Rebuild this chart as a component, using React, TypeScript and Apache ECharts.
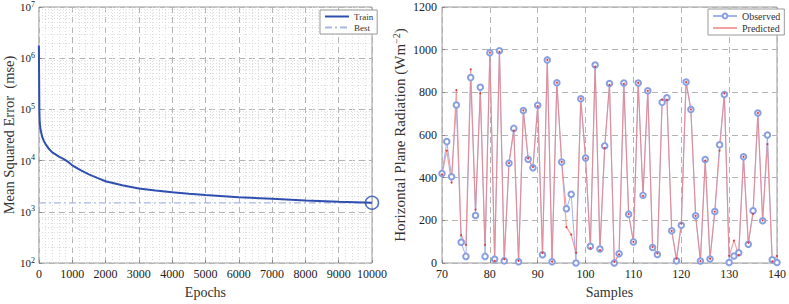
import React, { useEffect, useRef } from "react";
import * as echarts from "echarts";

// Left chart: training performance (epoch, mse)
const trainEpochs = [0, 5, 10, 15, 25, 50, 100, 150, 200, 300, 400, 500, 600, 750, 900, 1000, 1250, 1500, 1750, 2000, 2500, 3000, 3500, 4000, 4500, 5000, 6000, 7000, 8000, 9000, 10000];
const trainMse = [1770000, 600000, 200000, 90000, 55000, 40000, 29000, 24000, 21000, 17000, 14500, 13200, 12000, 10700, 9200, 8100, 6500, 5400, 4600, 3950, 3300, 2850, 2600, 2400, 2250, 2120, 1930, 1790, 1660, 1570, 1500];
const bestEpoch = 10000;
const bestMse = 1500;
const xTicksLeft = { min: 0, max: 10000, interval: 1000 };
const yDecades = [2, 3, 4, 5, 6, 7];

// Right chart: observed vs predicted
const samples = [70, 71, 72, 73, 74, 75, 76, 77, 78, 79, 80, 81, 82, 83, 84, 85, 86, 87, 88, 89, 90, 91, 92, 93, 94, 95, 96, 97, 98, 99, 100, 101, 102, 103, 104, 105, 106, 107, 108, 109, 110, 111, 112, 113, 114, 115, 116, 117, 118, 119, 120, 121, 122, 123, 124, 125, 126, 127, 128, 129, 130, 131, 132, 133, 134, 135, 136, 137, 138, 139, 140];
const observed = [420, 569, 404, 741, 97, 31, 869, 223, 824, 31, 986, 18, 995, 10, 468, 631, 6, 715, 486, 446, 739, 39, 952, 6, 845, 473, 254, 322, 0, 770, 492, 78, 928, 66, 549, 841, 0, 43, 844, 229, 99, 844, 317, 807, 73, 40, 753, 775, 151, 10, 177, 848, 720, 221, 9, 485, 19, 241, 554, 790, 2, 33, 48, 498, 88, 245, 703, 198, 600, 15, 2];
const predicted = [415, 527, 377, 810, 130, 85, 908, 250, 796, 85, 986, 10, 990, 18, 468, 620, 10, 715, 490, 450, 735, 48, 952, 6, 845, 474, 168, 133, 48, 770, 490, 70, 920, 60, 540, 835, 5, 40, 840, 229, 99, 844, 315, 807, 75, 45, 766, 765, 151, 21, 185, 848, 720, 221, 9, 480, 20, 241, 527, 795, 33, 105, 37, 498, 95, 230, 703, 200, 557, 8, 33];

const FONT = "Liberation Serif";

export default function App() {
  const ref = useRef<HTMLDivElement>(null);
  useEffect(() => {
    if (!ref.current) return;
    const chart = echarts.init(ref.current, null, { renderer: "svg" });
    const minorY: { yAxis: number }[] = [];
    for (let i = 0; i < yDecades.length - 1; i++) {
      for (let m = 2; m <= 9; m++) minorY.push({ yAxis: m * Math.pow(10, yDecades[i]) });
    }
    const gridLine = { show: true, lineStyle: { color: "#b4b4b4", type: [6, 4] as any, width: 1 } };
    const minorStyle = { color: "#dcdcdc", type: [1, 2] as any, width: 1 };
    const axisLabelStyle = { color: "#222", fontFamily: FONT, fontSize: 12 };
    const plain = (v: number) => String(v);
    chart.setOption({
      animation: false,
      textStyle: { fontFamily: FONT },
      grid: [
        { left: 33, top: 7, width: 339, height: 266, show: true, borderColor: "#9a9a9a", borderWidth: 1, backgroundColor: "transparent" },
        { left: 442, top: 7, width: 340, height: 267, show: true, borderColor: "#9a9a9a", borderWidth: 1, backgroundColor: "transparent" },
      ],
      xAxis: [
        {
          gridIndex: 0, type: "value", min: xTicksLeft.min, max: xTicksLeft.max, interval: xTicksLeft.interval,
          name: "Epochs", nameLocation: "middle", nameGap: 22,
          nameTextStyle: { fontFamily: FONT, fontSize: 14, color: "#333" },
          axisLine: { show: false }, axisTick: { inside: true, length: 3, lineStyle: { color: "#888" } },
          axisLabel: { ...axisLabelStyle, margin: 5, formatter: plain },
          splitLine: gridLine,
          minorTick: { show: false, splitNumber: 5 },
          minorSplitLine: { show: true, lineStyle: minorStyle },
        },
        {
          gridIndex: 1, type: "value", min: 70, max: 140, interval: 10,
          name: "Samples", nameLocation: "middle", nameGap: 22,
          nameTextStyle: { fontFamily: FONT, fontSize: 14, color: "#333" },
          axisLine: { show: false }, axisTick: { inside: true, length: 3, lineStyle: { color: "#888" } },
          axisLabel: { ...axisLabelStyle, margin: 5, formatter: plain },
          splitLine: gridLine,
        },
      ],
      yAxis: [
        {
          gridIndex: 0, type: "log", logBase: 10, min: 100, max: 10000000,
          name: "Mean Squared Error  (mse)", nameLocation: "middle", nameGap: 21,
          nameTextStyle: { fontFamily: FONT, fontSize: 14.5, color: "#333" },
          axisLine: { show: false }, axisTick: { inside: true, length: 3, lineStyle: { color: "#888" } },
          axisLabel: {
            ...axisLabelStyle, margin: 4,
            formatter: (v: number) => `{b|10}{s|${Math.round(Math.log10(v))}}`,
            rich: {
              b: { fontFamily: FONT, fontSize: 11, color: "#222" },
              s: { fontFamily: FONT, fontSize: 8, color: "#222", verticalAlign: "top", padding: [0, 0, 6, 0] },
            },
          },
          splitLine: gridLine,
        },
        {
          gridIndex: 1, type: "value", min: 0, max: 1200, interval: 200,
          name: "Horizontal Plane Radiation (Wm{s|−2})", nameLocation: "middle", nameGap: 33,
          nameTextStyle: {
            fontFamily: FONT, fontSize: 15, color: "#333",
            rich: { s: { fontFamily: FONT, fontSize: 10, color: "#333", verticalAlign: "top", padding: [0, 0, 8, 0] } },
          },
          axisLine: { show: false }, axisTick: { inside: true, length: 3, lineStyle: { color: "#888" } },
          axisLabel: { ...axisLabelStyle, margin: 5, formatter: plain },
          splitLine: gridLine,
        },
      ],
      legend: [
        {
          left: 320, top: 10, orient: "vertical", itemGap: 2, itemWidth: 24, itemHeight: 7,
          padding: [2, 4, 2, 4],
          borderColor: "#999", borderWidth: 1, backgroundColor: "#fff",
          textStyle: { fontFamily: FONT, fontSize: 9, color: "#333" },
          data: [
            { name: "Train", itemStyle: { opacity: 0 } },
            { name: "Best", itemStyle: { opacity: 0 } },
          ],
        },
        {
          left: 708, top: 9, orient: "vertical", itemGap: 2, itemWidth: 24, itemHeight: 6,
          padding: [2, 4, 2, 4],
          borderColor: "#999", borderWidth: 1, backgroundColor: "#fff",
          textStyle: { fontFamily: FONT, fontSize: 10, color: "#333" },
          data: [
            { name: "Observed" },
            { name: "Predicted", itemStyle: { opacity: 0 } },
          ],
        },
      ],
      series: [
        {
          name: "minor", type: "line", xAxisIndex: 0, yAxisIndex: 0, data: [], silent: true, z: 0,
          markLine: {
            silent: true, symbol: "none", label: { show: false }, z: 0,
            lineStyle: minorStyle,
            data: minorY,
          },
        },
        {
          name: "Best", type: "line", xAxisIndex: 0, yAxisIndex: 0, z: 8,
          data: [[0, bestMse], [bestEpoch, bestMse]],
          showSymbol: false, symbol: "none",
          lineStyle: { color: "#a9b6e6", width: 1.2, type: [7, 3, 2, 3] as any },
          itemStyle: { color: "#a9b6e6" },
        },
        {
          name: "Train", type: "line", xAxisIndex: 0, yAxisIndex: 0, z: 10,
          data: trainEpochs.map((e, i) => [e, trainMse[i]]),
          showSymbol: false, symbol: "none",
          lineStyle: { color: "#2f4fb0", width: 2 },
          itemStyle: { color: "#2f4fb0" },
        },
        {
          name: "bestMark", type: "scatter", xAxisIndex: 0, yAxisIndex: 0,
          data: [[bestEpoch, bestMse]], symbol: "circle", symbolSize: 13,
          itemStyle: { color: "rgba(0,0,0,0)", borderColor: "#2f4fb0", borderWidth: 1.5 },
          z: 11,
        },
        {
          name: "Observed", type: "line", xAxisIndex: 1, yAxisIndex: 1,
          data: samples.map((s, i) => [s, observed[i]]),
          symbol: "emptyCircle", symbolSize: 5.5,
          lineStyle: { color: "#a3b2e8", width: 1 },
          itemStyle: { color: "#8a9fe2", borderColor: "#8a9fe2", borderWidth: 0.7 },
        },
        {
          name: "Predicted", type: "line", xAxisIndex: 1, yAxisIndex: 1,
          data: samples.map((s, i) => [s, predicted[i]]),
          symbol: "circle", symbolSize: 2,
          lineStyle: { color: "rgba(240,130,130,0.75)", width: 1.2 },
          itemStyle: { color: "#e03a3a" },
          z: 3,
        },
      ],
    });
    return () => chart.dispose();
  }, []);
  return <div ref={ref} style={{ position: "fixed", left: 0, top: 0, width: 789, height: 304, background: "#fff" }} />;
}
